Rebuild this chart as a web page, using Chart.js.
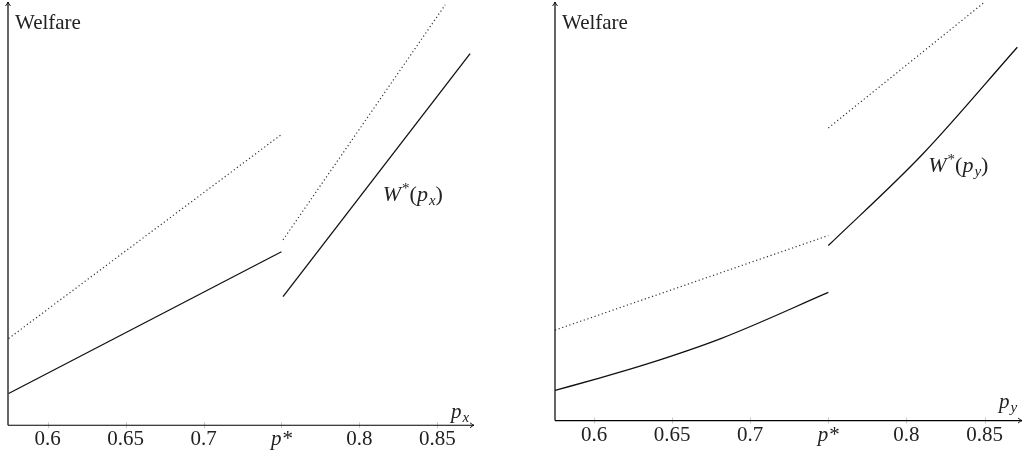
<!DOCTYPE html>
<html>
<head>
<meta charset="utf-8">
<script src="https://cdn.jsdelivr.net/npm/chart.js@4.4.1/dist/chart.umd.min.js"></script>
<style>
  html, body { margin: 0; padding: 0; background: #fff; }
  .panel { position: absolute; top: 0; width: 513px; height: 456px; }
  #left { left: 0; }
  #right { left: 513px; }
</style>
</head>
<body>
<div class="panel" id="left"><canvas id="welfare-px"></canvas></div>
<div class="panel" id="right"><canvas id="welfare-py"></canvas></div>
<script>
// tick positions and their labels (p* sits at 0.75)
var xTicks = [0.6, 0.65, 0.7, 0.75, 0.8, 0.85];
var tickLabels = ['0.6', '0.65', '0.7', 'p*', '0.8', '0.85'];

// left panel, welfare against p_x  ([p, W] pairs)
var pxSolidLow  = [[0.575, 0.75], [0.75, 4.10]];
var pxSolidHigh = [[0.751, 3.04], [0.871, 8.78]];
var pxDotLow    = [[0.575, 2.05], [0.75, 6.87]];
var pxDotHigh   = [[0.751, 4.38], [0.855, 9.93]];

// right panel, welfare against p_y
var pySolidLow  = [[0.575, 0.72], [0.604, 1.02], [0.633, 1.34], [0.682, 1.97], [0.75, 3.06]];
var pySolidHigh = [[0.75, 4.18], [0.81, 6.35], [0.871, 8.92]];
var pyDotLow    = [[0.575, 2.16], [0.75, 4.42]];
var pyDotHigh   = [[0.75, 6.99], [0.8495, 9.98]];

var fontFamily = '"Liberation Serif"';
var ink = '#222';

function toPoints(pairs) {
  return pairs.map(function (p) { return { x: p[0], y: p[1] }; });
}

function solid(pairs, smooth) {
  return { data: toPoints(pairs), borderColor: '#111', borderWidth: 1.3, showLine: true, pointRadius: 0,
           cubicInterpolationMode: smooth ? 'monotone' : 'default', tension: smooth ? 0.4 : 0 };
}
function dotted(pairs) {
  return { data: toPoints(pairs), borderColor: '#333', borderWidth: 1.2, borderDash: [1.2, 2.6], showLine: true, pointRadius: 0, tension: 0 };
}

// draw a run of text pieces: [text, kind] with kind r / i / sup / sub
function drawRich(ctx, parts, x, y, size) {
  parts.forEach(function (p) {
    var kind = p[1], s = size, dy = 0, style = '';
    if (kind === 'i') style = 'italic ';
    if (kind === 'sup') { s = Math.round(size * 0.68); dy = -size * 0.36; }
    if (kind === 'sub') { s = Math.round(size * 0.7); dy = size * 0.2; style = 'italic '; }
    ctx.font = style + s + 'px ' + fontFamily;
    ctx.fillText(p[0], x, y + dy);
    x += ctx.measureText(p[0]).width + (kind === 'i' ? 1 : 0);
  });
}

var axesPlugin = {
  id: 'axes',
  afterDraw: function (chart, args, opts) {
    var ctx = chart.ctx, a = chart.chartArea, xs = chart.scales.x, ys = chart.scales.y;
    ctx.save();
    // small grey tick marks across the axis
    ctx.strokeStyle = '#bbb';
    ctx.lineWidth = 0.8;
    xTicks.forEach(function (v) {
      var px = Math.round(xs.getPixelForValue(v)) + 0.5;
      ctx.beginPath();
      ctx.moveTo(px, a.bottom - 3);
      ctx.lineTo(px, a.bottom + 3);
      ctx.stroke();
    });
    // the two axes with arrow heads
    ctx.strokeStyle = '#000';
    ctx.lineWidth = 1.2;
    ctx.beginPath();
    ctx.moveTo(a.left, a.bottom);
    ctx.lineTo(a.right, a.bottom);
    ctx.moveTo(a.left, a.bottom);
    ctx.lineTo(a.left, a.top);
    ctx.stroke();
    ctx.lineWidth = 0.9;
    ctx.beginPath();
    ctx.moveTo(a.right - 4, a.bottom - 2.5);
    ctx.quadraticCurveTo(a.right - 1.5, a.bottom - 0.5, a.right, a.bottom);
    ctx.quadraticCurveTo(a.right - 1.5, a.bottom + 0.5, a.right - 4, a.bottom + 2.5);
    ctx.moveTo(a.left - 2.5, a.top + 4);
    ctx.quadraticCurveTo(a.left - 0.5, a.top + 1.5, a.left, a.top);
    ctx.quadraticCurveTo(a.left + 0.5, a.top + 1.5, a.left + 2.5, a.top + 4);
    ctx.stroke();

    ctx.fillStyle = ink;
    ctx.textBaseline = 'alphabetic';
    ctx.textAlign = 'left';
    // axis titles
    drawRich(ctx, [['Welfare', 'r']], a.left + 7, a.top + 27, 21);
    drawRich(ctx, [['p', 'i'], [opts.sub, 'sub']], a.right - 23, a.bottom - 7 - opts.subLift, 21);
    // curve label
    var lx = xs.getPixelForValue(opts.labelAt[0]);
    var ly = ys.getPixelForValue(opts.labelAt[1]);
    drawRich(ctx, [['W', 'i'], ['*', 'sup'], ['(', 'r'], ['p', 'i'], [opts.sub, 'sub'], [')', 'r']], lx, ly, 22);
    ctx.restore();
  }
};

function makeChart(id, sets, xMin, xMax, padding, opts) {
  return new Chart(document.getElementById(id), {
    type: 'scatter',
    data: { datasets: sets },
    options: {
      responsive: true,
      maintainAspectRatio: false,
      animation: false,
      layout: { padding: padding },
      plugins: { legend: { display: false }, tooltip: { enabled: false }, axes: opts },
      scales: {
        x: {
          type: 'linear',
          min: xMin,
          max: xMax,
          afterBuildTicks: function (scale) {
            scale.ticks = xTicks.map(function (v) { return { value: v }; });
          },
          grid: { display: false, drawTicks: false },
          border: { display: false },
          ticks: {
            autoSkip: false,
            maxRotation: 0,
            padding: 5.5,
            color: ink,
            font: function (c) {
              return { family: fontFamily, size: 21, lineHeight: 0.86, style: c.index === 3 ? 'italic' : 'normal' };
            },
            callback: function (v, i) { return tickLabels[i]; }
          }
        },
        y: { type: 'linear', min: 0, max: 10, display: false }
      }
    },
    plugins: [axesPlugin]
  });
}

makeChart('welfare-px',
  [solid(pxSolidLow), solid(pxSolidHigh), dotted(pxDotLow), dotted(pxDotHigh)],
  0.5746, 0.8735,
  { left: 8, right: 39, top: 2, bottom: 1.7 },
  { sub: 'x', subLift: 0, labelAt: [0.815, 5.3] });

makeChart('welfare-py',
  [solid(pySolidLow, true), solid(pySolidHigh, true), dotted(pyDotLow), dotted(pyDotHigh)],
  0.575, 0.874,
  { left: 42, right: 4, top: 2, bottom: 6.4 },
  { sub: 'y', subLift: 6, labelAt: [0.814, 5.95] });
</script>
</body>
</html>
